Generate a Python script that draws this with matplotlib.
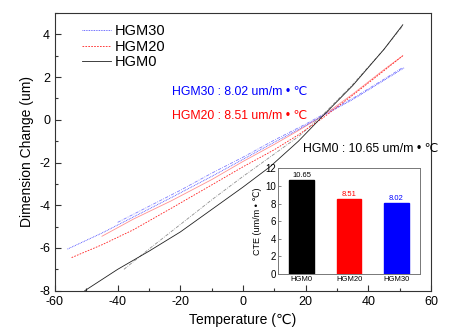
import matplotlib
matplotlib.use("Agg")
import matplotlib.pyplot as plt
import matplotlib.ticker as mticker
import numpy as np

plt.rcParams["font.family"] = ["Liberation Sans", "DejaVu Sans"]
plt.rcParams["axes.unicode_minus"] = False

# thermal expansion runs (temperature in C, dimension change in um)
t_hgm0_a = [-50.5, -40, -30, -20, -10, 0, 8.6, 17.7, 25.6, 35, 45, 51]
d_hgm0_a = [-8.0, -7.0, -6.15, -5.25, -4.2, -3.15, -2.2, -1.0, 0.2, 1.6, 3.3, 4.45]
t_hgm0_b = [-38, -30, -20, -10, 0, 10, 18, 25.6, 35, 45, 51]
d_hgm0_b = [-7.0, -6.05, -4.9, -3.75, -2.65, -1.6, -0.75, 0.25, 1.65, 3.3, 4.4]

t_hgm20_a = [-54.7, -45, -35, -23, -10, 0, 10, 17.7, 25.6, 35, 45, 51]
d_hgm20_a = [-6.45, -5.85, -5.15, -4.15, -3.05, -2.2, -1.4, -0.7, 0.1, 1.15, 2.3, 3.0]
t_hgm20_b = [-45, -35, -23, -10, 0, 10, 17.7, 25.6, 35, 45, 51]
d_hgm20_b = [-5.45, -4.65, -3.8, -2.8, -1.95, -1.15, -0.5, 0.2, 1.2, 2.35, 3.0]

t_hgm30_a = [-56, -45, -35, -23, -10, 0, 10, 17.7, 25.6, 35, 45, 51.4]
d_hgm30_a = [-6.05, -5.3, -4.55, -3.65, -2.65, -1.85, -1.05, -0.45, 0.2, 0.95, 1.85, 2.43]
t_hgm30_b = [-40, -30, -20, -10, 0, 10, 20, 25.6, 35, 45, 51]
d_hgm30_b = [-4.8, -4.05, -3.3, -2.5, -1.75, -0.95, -0.2, 0.25, 1.0, 1.9, 2.45]

samples = ["HGM0", "HGM20", "HGM30"]
cte = [10.65, 8.51, 8.02]
bar_colors = ["black", "red", "blue"]

fig = plt.figure(figsize=(4.53, 3.36), dpi=100)
ax = fig.add_axes([0.1214, 0.1348, 0.83, 0.8265])

ax.plot(t_hgm30_b, d_hgm30_b, color="#8080ff", lw=0.6, ls=(0, (4, 1.5, 1, 1.5)))
ax.plot(t_hgm20_b, d_hgm20_b, color="#ff9090", lw=0.6, ls="-")
ax.plot(t_hgm0_b, d_hgm0_b, color="#909090", lw=0.6, ls=(0, (4, 1.5, 1, 1.5)))
l30, = ax.plot(t_hgm30_a, d_hgm30_a, color="#4040ff", lw=0.6, ls=(0, (1, 1)),
               label="HGM30")
l20, = ax.plot(t_hgm20_a, d_hgm20_a, color="#ff2020", lw=0.6, ls=(0, (2, 1.5)),
               label="HGM20")
l0, = ax.plot(t_hgm0_a, d_hgm0_a, color="#202020", lw=0.6, ls="-", label="HGM0")

ax.set_xlim(-60, 60)
ax.set_ylim(-8, 5)
ax.xaxis.set_major_locator(mticker.MultipleLocator(20))
ax.xaxis.set_minor_locator(mticker.MultipleLocator(10))
ax.yaxis.set_major_locator(mticker.MultipleLocator(2))
ax.yaxis.set_minor_locator(mticker.MultipleLocator(1))
ax.tick_params(which="both", direction="in", top=False, right=False,
               labelsize=9, width=0.8, color="#333333")
ax.tick_params(which="major", length=4)
ax.tick_params(which="minor", length=2)
for sp in ax.spines.values():
    sp.set_color("#333333")
    sp.set_linewidth(0.8)
ax.set_xlabel("Temperature (\u2103)", fontsize=10)
ax.set_ylabel("Dimension Change (um)", fontsize=10)

ax.legend(handles=[l30, l20, l0], loc="upper left", bbox_to_anchor=(0.055, 0.98),
          frameon=False, fontsize=10.5, handlelength=2.0, handletextpad=0.3,
          labelspacing=0.1, borderaxespad=0)

ax.text(-22.7, 1.3, "HGM30 : 8.02 um/m \u2022 \u2103", color="blue", fontsize=8.8,
        va="center")
ax.text(-22.7, 0.2, "HGM20 : 8.51 um/m \u2022 \u2103", color="red", fontsize=8.8,
        va="center")
ax.text(19, -1.35, "HGM0 : 10.65 um/m \u2022 \u2103", color="black", fontsize=8.8,
        va="center")

# inset bar chart of CTE values
ins = fig.add_axes([0.6137, 0.1845, 0.3135, 0.3146])
pos = np.arange(len(samples))
ins.bar(pos, cte, width=0.52, color=bar_colors, edgecolor=bar_colors)
for p, v, c in zip(pos, cte, bar_colors):
    ins.text(p, v + 0.1, f"{v:.2f}", color=c, fontsize=5.5, ha="center",
             va="bottom")
ins.set_xlim(-0.5, 2.5)
ins.set_ylim(0, 12)
ins.set_xticks(pos)
ins.set_xticklabels(samples)
ins.yaxis.set_major_locator(mticker.MultipleLocator(2))
ins.tick_params(axis="y", direction="in", labelsize=7, length=2, width=0.5,
                pad=1.5, color="#555555")
ins.tick_params(axis="x", direction="in", labelsize=5.5, length=0, pad=1.5)
for sp in ins.spines.values():
    sp.set_color("#777777")
    sp.set_linewidth(0.7)
ins.set_ylabel("CTE (um/m \u2022 \u2103)", fontsize=6.5, labelpad=2)

fig.savefig("out.png", dpi=100)
